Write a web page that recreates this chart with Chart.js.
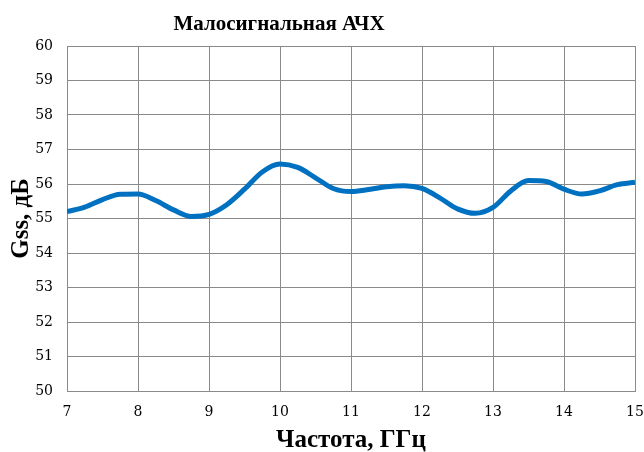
<!DOCTYPE html>
<html>
<head>
<meta charset="utf-8">
<script src="https://cdn.jsdelivr.net/npm/chart.js@4"></script>
<style>
  html, body { margin: 0; padding: 0; background: #fff; }
  #wrap { width: 644px; height: 452px; }
</style>
</head>
<body>
<div id="wrap"><canvas id="myChart" width="644" height="452"></canvas></div>
<script>
// Frequency, GHz
var freq = [7.0, 7.25, 7.5, 7.75, 8.0, 8.25, 8.5, 8.75, 9.0, 9.25, 9.5, 9.75,
            10.0, 10.25, 10.5, 10.75, 11.0, 11.25, 11.5, 11.75, 12.0, 12.25, 12.5, 12.75,
            13.0, 13.25, 13.5, 13.75, 14.0, 14.25, 14.5, 14.75, 15.0];
// Small-signal gain Gss, dB
var gss = [55.2, 55.33, 55.55, 55.7, 55.71, 55.52, 55.25, 55.06, 55.12, 55.4, 55.85, 56.35,
           56.58, 56.48, 56.18, 55.87, 55.78, 55.84, 55.92, 55.95, 55.87, 55.6, 55.28, 55.15,
           55.32, 55.8, 56.1, 56.07, 55.85, 55.71, 55.8, 55.98, 56.05];
var xTicks = [7, 8, 9, 10, 11, 12, 13, 14, 15];
var yTicks = [50, 51, 52, 53, 54, 55, 56, 57, 58, 59, 60];
var chartTitle = 'Малосигнальная АЧХ';

var points = freq.map(function (f, i) { return { x: f, y: gss[i] }; });
var serif = "'DejaVu Serif', 'Liberation Serif', serif";
var boldSerif = "'Liberation Serif', serif";

// title sits left of centre in the original, so draw it ourselves
var titlePlugin = {
    id: 'offsetTitle',
    afterDraw: function (chart) {
        var c = chart.ctx;
        c.save();
        c.font = 'bold 21px ' + boldSerif;
        c.fillStyle = '#000';
        c.textAlign = 'center';
        c.textBaseline = 'middle';
        c.fillText(chartTitle, 279, 25);
        c.restore();
    }
};

var ctx = document.getElementById('myChart').getContext('2d');
var myChart = new Chart(ctx, {
    type: 'scatter',
    data: {
        datasets: [{
            label: 'Gss',
            data: points,
            showLine: true,
            borderColor: '#0070C0',
            borderWidth: 5,
            pointRadius: 0,
            tension: 0.4,
            cubicInterpolationMode: 'monotone'
        }]
    },
    plugins: [titlePlugin],
    options: {
        responsive: false,
        animation: false,
        layout: { padding: { top: 46, right: 9, left: 0, bottom: 0 } },
        plugins: {
            legend: { display: false },
            tooltip: { enabled: false },
            title: { display: false }
        },
        scales: {
            x: {
                type: 'linear',
                min: 7,
                max: 15,
                afterBuildTicks: function (axis) {
                    axis.ticks = xTicks.map(function (v) { return { value: v }; });
                },
                afterFit: function (axis) {
                    axis.height = 61;
                    axis.paddingLeft = 0;
                    axis.paddingRight = 0;
                },
                grid: { color: '#8a8a8a', lineWidth: 1, drawTicks: false },
                border: { color: '#8a8a8a' },
                ticks: {
                    color: '#000',
                    padding: 13,
                    maxRotation: 0,
                    font: { family: serif, size: 14 }
                },
                title: {
                    display: true,
                    text: 'Частота, ГГц',
                    color: '#000',
                    font: { family: boldSerif, size: 25, weight: 'bold' },
                    padding: { top: 0, bottom: -4 }
                }
            },
            y: {
                min: 50,
                max: 60,
                afterBuildTicks: function (axis) {
                    axis.ticks = yTicks.map(function (v) { return { value: v }; });
                },
                afterFit: function (axis) {
                    axis.width = 67;
                    axis.paddingTop = 0;
                    axis.paddingBottom = 0;
                },
                grid: { color: '#8a8a8a', lineWidth: 1, drawTicks: false },
                border: { color: '#8a8a8a' },
                ticks: {
                    color: '#000',
                    padding: 14,
                    font: { family: serif, size: 14 }
                },
                title: {
                    display: true,
                    text: 'Gss, дБ',
                    color: '#000',
                    font: { family: boldSerif, size: 25, weight: 'bold' },
                    padding: { top: 7, bottom: 0 }
                }
            }
        }
    }
});
</script>
</body>
</html>
